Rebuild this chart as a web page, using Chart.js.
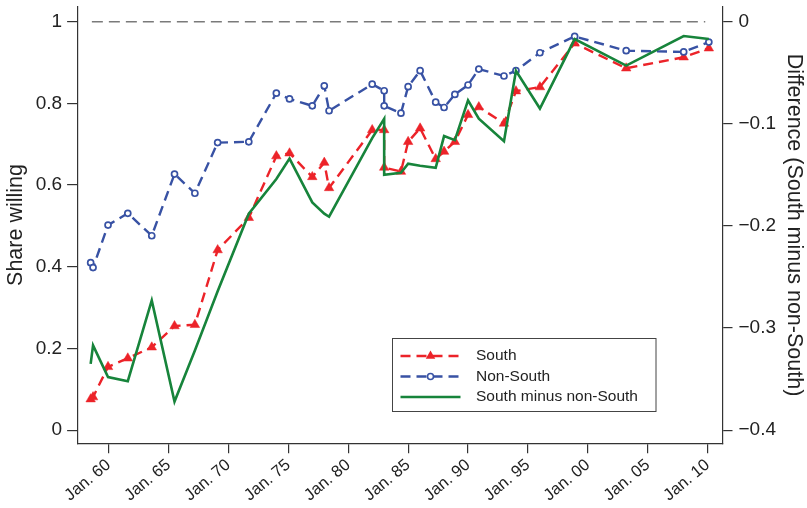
<!DOCTYPE html>
<html>
<head>
<meta charset="utf-8">
<title>Share willing, South vs non-South</title>
<script src="https://cdn.jsdelivr.net/npm/chart.js@4.4.0/dist/chart.umd.min.js"></script>
<style>
  html, body { margin: 0; padding: 0; background: #ffffff; }
  #wrap { width: 807px; height: 508px; }
</style>
</head>
<body>
<div id="wrap"><canvas id="c" width="807" height="508"></canvas></div>
<script>
// Survey dates (decimal years) shared by all three series
const years = [1958.5, 1958.7, 1959.95, 1961.6, 1963.6, 1965.5, 1967.2, 1969.1, 1971.7, 1974.0,
  1975.1, 1977.0, 1978.0, 1978.4, 1982.0, 1983.0, 1983.0, 1984.4, 1985.0, 1986.0,
  1987.3, 1988.0, 1988.9, 1990.0, 1990.9, 1993.0, 1994.0, 1996.0, 1998.9, 2003.2,
  2008.0, 2010.1];

// Share willing in the South (left axis)
const south = [0.076, 0.081, 0.155, 0.176, 0.203, 0.255, 0.258, 0.441, 0.520, 0.671,
  0.678, 0.620, 0.655, 0.593, 0.735, 0.735, 0.643, 0.633, 0.706, 0.739,
  0.664, 0.682, 0.706, 0.772, 0.791, 0.751, 0.830, 0.840, 0.947, 0.886,
  0.913, 0.935];

// Share willing outside the South (left axis)
const nonSouth = [0.410, 0.398, 0.502, 0.531, 0.476, 0.627, 0.580, 0.704, 0.706, 0.825,
  0.811, 0.794, 0.843, 0.782, 0.847, 0.831, 0.794, 0.776, 0.841, 0.880,
  0.803, 0.790, 0.822, 0.845, 0.884, 0.867, 0.880, 0.924, 0.964, 0.929,
  0.926, 0.950];

// South minus non-South (right axis)
const difference = [-0.335, -0.317, -0.348, -0.352, -0.273, -0.372, -0.322, -0.264, -0.188, -0.154,
  -0.134, -0.177, -0.188, -0.191, -0.114, -0.095, -0.150, -0.148, -0.139, -0.141,
  -0.143, -0.112, -0.116, -0.077, -0.095, -0.117, -0.048, -0.085, -0.017, -0.043,
  -0.014, -0.017];

// Full-agreement reference line (share = 1)
const referenceYears = [1958.6, 2009.8];
const referenceValue = [1, 1];

// Tick labels
const xTickYears = [1960, 1965, 1970, 1975, 1980, 1985, 1990, 1995, 2000, 2005, 2010];
const leftTicks = [0, 0.2, 0.4, 0.6, 0.8, 1];
const rightTicks = [0, -0.1, -0.2, -0.3, -0.4];

const FONT = '"Liberation Sans", Arial, Helvetica, sans-serif';
const AXIS = '#333333';
const RED = '#ec2329';
const BLUE = '#3852a4';
const GREEN = '#17843b';

const pts = (xs, ys) => xs.map((x, i) => ({ x: x, y: ys[i] }));

function drawTriangle(ctx, x, y, r) {
  ctx.beginPath();
  ctx.moveTo(x, y - r);
  ctx.lineTo(x + r * 0.866, y + r * 0.5);
  ctx.lineTo(x - r * 0.866, y + r * 0.5);
  ctx.closePath();
  ctx.fill();
}

// Boxed legend placed inside the plot area
const boxLegend = {
  id: 'boxLegend',
  afterDraw(chart) {
    const ctx = chart.ctx;
    const left = 392.5, top = 338.5, w = 263.5, h = 73;
    ctx.save();
    ctx.fillStyle = '#ffffff';
    ctx.fillRect(left, top, w, h);
    ctx.strokeStyle = '#444444';
    ctx.lineWidth = 1;
    ctx.strokeRect(left, top, w, h);
    const rows = [
      { label: 'South', color: RED, dash: [10, 6], marker: 'triangle' },
      { label: 'Non-South', color: BLUE, dash: [10, 6], marker: 'circle' },
      { label: 'South minus non-South', color: GREEN, dash: [], marker: null }
    ];
    rows.forEach((r, i) => {
      const y = top + 17.5 + i * 20.5;
      const x0 = left + 8, x1 = left + 68, xm = (x0 + x1) / 2;
      ctx.strokeStyle = r.color;
      ctx.lineWidth = 2.4;
      ctx.setLineDash(r.dash);
      ctx.lineDashOffset = 0;
      ctx.beginPath();
      ctx.moveTo(x0, y);
      ctx.lineTo(x1, y);
      ctx.stroke();
      ctx.setLineDash([]);
      if (r.marker === 'triangle') {
        ctx.fillStyle = r.color;
        drawTriangle(ctx, xm, y, 5.5);
      } else if (r.marker === 'circle') {
        ctx.fillStyle = '#ffffff';
        ctx.lineWidth = 1.6;
        ctx.beginPath();
        ctx.arc(xm, y, 3, 0, Math.PI * 2);
        ctx.fill();
        ctx.stroke();
      }
      ctx.fillStyle = '#222222';
      ctx.font = '15.5px ' + FONT;
      ctx.textAlign = 'left';
      ctx.textBaseline = 'middle';
      ctx.fillText(r.label, left + 83.5, y);
    });
    ctx.restore();
  }
};

const fmtLeft = v => String(Number(v.toFixed(1)));
const fmtRight = v => (Math.abs(v) < 1e-9 ? '0' : '\u2212' + Math.abs(v).toFixed(1));
const fmtYear = v => 'Jan. ' + String(Math.round(v) % 100).padStart(2, '0');

// Vertical axes: fixed width and no extra label padding above/below the plot
const fitVertical = width => s => {
  s.width = width;
  s.paddingTop = 0;
  s.paddingBottom = 0;
};

new Chart(document.getElementById('c'), {
  type: 'line',
  data: {
    datasets: [
      {
        label: 'South',
        data: pts(years, south),
        yAxisID: 'y',
        borderColor: RED,
        backgroundColor: RED,
        borderWidth: 2.4,
        borderDash: [10, 6],
        pointStyle: 'triangle',
        pointRadius: 5.5,
        pointBorderWidth: 0.5,
        pointBorderColor: RED,
        pointBackgroundColor: RED,
        tension: 0,
        order: 3
      },
      {
        label: 'Non-South',
        data: pts(years, nonSouth),
        yAxisID: 'y',
        borderColor: BLUE,
        backgroundColor: BLUE,
        borderWidth: 2.4,
        borderDash: [10, 6],
        pointStyle: 'circle',
        pointRadius: 3,
        pointBorderWidth: 1.7,
        pointBorderColor: BLUE,
        pointBackgroundColor: '#ffffff',
        tension: 0,
        order: 2
      },
      {
        label: 'South minus non-South',
        data: pts(years, difference),
        yAxisID: 'y1',
        borderColor: GREEN,
        backgroundColor: GREEN,
        borderWidth: 2.6,
        pointRadius: 0,
        tension: 0,
        order: 1
      },
      {
        label: 'reference',
        data: pts(referenceYears, referenceValue),
        yAxisID: 'y',
        borderColor: '#7a7a7a',
        borderWidth: 1.6,
        borderDash: [11, 6],
        pointRadius: 0,
        tension: 0,
        order: 4
      }
    ]
  },
  options: {
    responsive: false,
    animation: false,
    devicePixelRatio: 1,
    layout: { padding: { top: 6.7, left: 0, right: 0, bottom: 0 } },
    plugins: {
      legend: { display: false },
      tooltip: { enabled: false }
    },
    scales: {
      x: {
        type: 'linear',
        position: 'bottom',
        min: 1957.41,
        max: 2011.24,
        afterBuildTicks: s => { s.ticks = xTickYears.map(v => ({ value: v })); },
        afterFit: s => { s.height = 64.7; s.paddingLeft = 0; s.paddingRight = 0; },
        grid: { drawOnChartArea: false, drawTicks: true, tickLength: 10, color: AXIS, lineWidth: 1.2 },
        border: { display: true, color: AXIS, width: 1.2 },
        ticks: {
          autoSkip: false,
          minRotation: 40,
          maxRotation: 40,
          padding: 2,
          color: '#222222',
          font: { family: FONT, size: 16.5 },
          callback: v => fmtYear(v)
        }
      },
      y: {
        type: 'linear',
        position: 'left',
        min: -0.0321,
        max: 1.0367,
        afterBuildTicks: s => { s.ticks = leftTicks.map(v => ({ value: v })); },
        afterFit: fitVertical(77.6),
        grid: { drawOnChartArea: false, drawTicks: true, tickLength: 10.5, color: AXIS, lineWidth: 1.2 },
        border: { display: true, color: AXIS, width: 1.2 },
        ticks: {
          padding: 5,
          color: '#222222',
          font: { family: FONT, size: 19 },
          callback: v => fmtLeft(v)
        },
        title: {
          display: true,
          text: 'Share willing',
          color: '#222222',
          font: { family: FONT, size: 21.5 },
          padding: { top: 3.5, bottom: 0 }
        }
      },
      y1: {
        type: 'linear',
        position: 'right',
        min: -0.41284,
        max: 0.01468,
        afterBuildTicks: s => { s.ticks = rightTicks.map(v => ({ value: v })); },
        afterFit: fitVertical(84.5),
        grid: { drawOnChartArea: false, drawTicks: true, tickLength: 10, color: AXIS, lineWidth: 1.2 },
        border: { display: true, color: AXIS, width: 1.2 },
        ticks: {
          padding: 6,
          color: '#222222',
          font: { family: FONT, size: 19 },
          callback: v => fmtRight(v)
        },
        title: {
          display: true,
          text: 'Difference (South minus non-South)',
          color: '#222222',
          font: { family: FONT, size: 21.5 },
          padding: { top: 0, bottom: 0 }
        }
      }
    }
  },
  plugins: [boxLegend]
});
</script>
</body>
</html>
